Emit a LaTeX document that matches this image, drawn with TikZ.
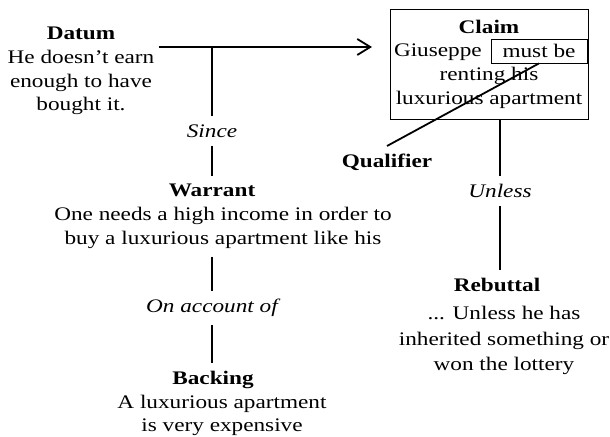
\documentclass[tikz,border=0pt]{standalone}
\usepackage{fontspec}
\setmainfont{Liberation Serif}[FakeStretch=1.21]
\usepackage{tikz}
\usetikzlibrary{positioning, arrows.meta}

\begin{document}
\begin{tikzpicture}[
    x=0.5pt, y=-0.5pt,
    every node/.style={font=\fontsize{9.6}{11.8}\selectfont},
    part/.style={align=center, anchor=north, inner xsep=2pt, inner ysep=4pt},
    conn/.style={part, font=\fontsize{9.6}{11.8}\selectfont\itshape},
    claimbox/.style={draw, align=center, minimum width=99pt, minimum height=55pt, inner sep=2pt},
    modalbox/.style={draw, minimum width=48pt, minimum height=12pt, inner sep=0pt},
    link/.style={line width=0.9pt},
    arrow/.style={link, -{Straight Barb[length=6.5pt, width=8pt, line width=0.9pt]}}
]
\useasboundingbox (0,0) rectangle (610,437);

% Datum and Claim
\node[part] (datum) at (81,19) {\textbf{Datum}\\He doesn't earn\\enough to have\\bought it.};
\node[claimbox] (claim) at (489,64) {\textbf{Claim}\\\makebox[95pt][l]{Giuseppe}\\renting his\\luxurious apartment};
\node[modalbox] (modal) at (539,51) {must be};
\node[part, font=\fontsize{9.6}{11.8}\selectfont\bfseries] (qualifier) at (387,146) {Qualifier};

% Warrant side
\node[conn] (since) at (212,116) {Since};
\node[part] (warrant) at (223,176) {\textbf{Warrant}\hspace*{11pt}\\One needs a high income in order to\\buy a luxurious apartment like his};
\node[conn] (account) at (212,291) {On account of};
\node[part] (backing) at (222,363) {\textbf{Backing}\hspace*{9pt}\\A luxurious apartment\\is very expensive};

% Rebuttal side
\node[conn] (unless) at (500,176) {Unless};
\node[part, font=\fontsize{9.6}{12.6}\selectfont] (rebuttal) at (504,270) {\textbf{Rebuttal}\hspace*{7pt}\\[1.5pt]... Unless he has\\inherited something or\\won the lottery};

\coordinate (join) at (212,47);
\coordinate (tip) at (372,47);

% Connectors
\draw[arrow] (datum.east |- join) -- (tip);
\draw[link] (join) -- (since);
\draw[link] (since) -- (warrant.north -| since);
\draw[link] (warrant.south -| since) -- (account);
\draw[link] (account) -- (backing.north -| account);
\draw[link] (modal.south) -- (qualifier.north);
\draw[link] (claim.south -| unless) -- (unless);
\draw[link] (unless) -- (rebuttal.north -| unless);
\end{tikzpicture}
\end{document}
